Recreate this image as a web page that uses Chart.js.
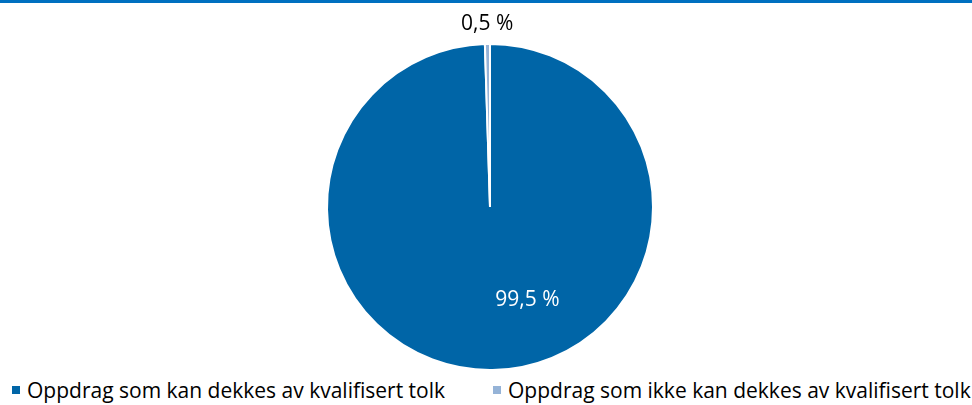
<!DOCTYPE html>
<html>
<head>
<meta charset="utf-8">
<script src="https://cdn.jsdelivr.net/npm/chart.js@4"></script>
<style>
    html, body { margin: 0; padding: 0; background: #fff; }
    #wrap { width: 972px; height: 372px; border-top: 3px solid #0070C0; position: relative; }
    #forklaring { position: absolute; top: 376px; left: 0; width: 972px; height: 28px;
        font: 21px "Open Sans", sans-serif; color: #000; }
    .punkt { position: absolute; top: 0; white-space: nowrap; line-height: 28px; }
    .boks { display: inline-block; width: 8px; height: 8px; margin-right: 7px; vertical-align: 4px; }
</style>
</head>
<body>
<div id="wrap"><canvas id="kake"></canvas></div>
<div id="forklaring"></div>
<script>
// Data
const kategorier = ['Oppdrag som kan dekkes av kvalifisert tolk', 'Oppdrag som ikke kan dekkes av kvalifisert tolk'];
const andeler = [99.5, 0.5];
const etiketter = ['99,5 %', '0,5 %'];
const farger = ['#0065A7', '#95B3D7'];
const forklaringX = [12, 493];

// Etiketter på sektorene
const etikettPlugin = {
    id: 'etiketter',
    afterDatasetsDraw(chart) {
        const ctx = chart.ctx;
        const meta = chart.getDatasetMeta(0);
        ctx.save();
        ctx.font = '21px "Open Sans", sans-serif';
        ctx.textAlign = 'center';
        ctx.textBaseline = 'middle';
        meta.data.forEach((arc, i) => {
            const r = arc.outerRadius;
            if (i === 0) {
                // innvendig, litt til høyre for bunnen
                ctx.fillStyle = '#ffffff';
                ctx.fillText(etiketter[i], arc.x + r * 0.23, arc.y + r * 0.57);
            } else {
                const mid = (arc.startAngle + arc.endAngle) / 2;
                ctx.fillStyle = '#000000';
                ctx.fillText(etiketter[i], arc.x + Math.cos(mid) * (r + 20), arc.y + Math.sin(mid) * (r + 20));
            }
        });
        ctx.restore();
    }
};

new Chart(document.getElementById('kake'), {
    type: 'pie',
    data: {
        labels: kategorier,
        datasets: [{
            data: andeler,
            backgroundColor: farger,
            borderColor: '#ffffff',
            borderWidth: 2
        }]
    },
    options: {
        responsive: true,
        maintainAspectRatio: false,
        animation: false,
        layout: { padding: { top: 40, bottom: 4, left: 8 } },
        plugins: {
            legend: { display: false },
            tooltip: { enabled: false }
        }
    },
    plugins: [etikettPlugin]
});

// Forklaring under kaken
const forklaring = document.getElementById('forklaring');
kategorier.forEach((navn, i) => {
    const el = document.createElement('div');
    el.className = 'punkt';
    el.style.left = forklaringX[i] + 'px';
    el.innerHTML = '<span class="boks" style="background:' + farger[i] + '"></span>' + navn;
    forklaring.appendChild(el);
});
</script>
</body>
</html>
